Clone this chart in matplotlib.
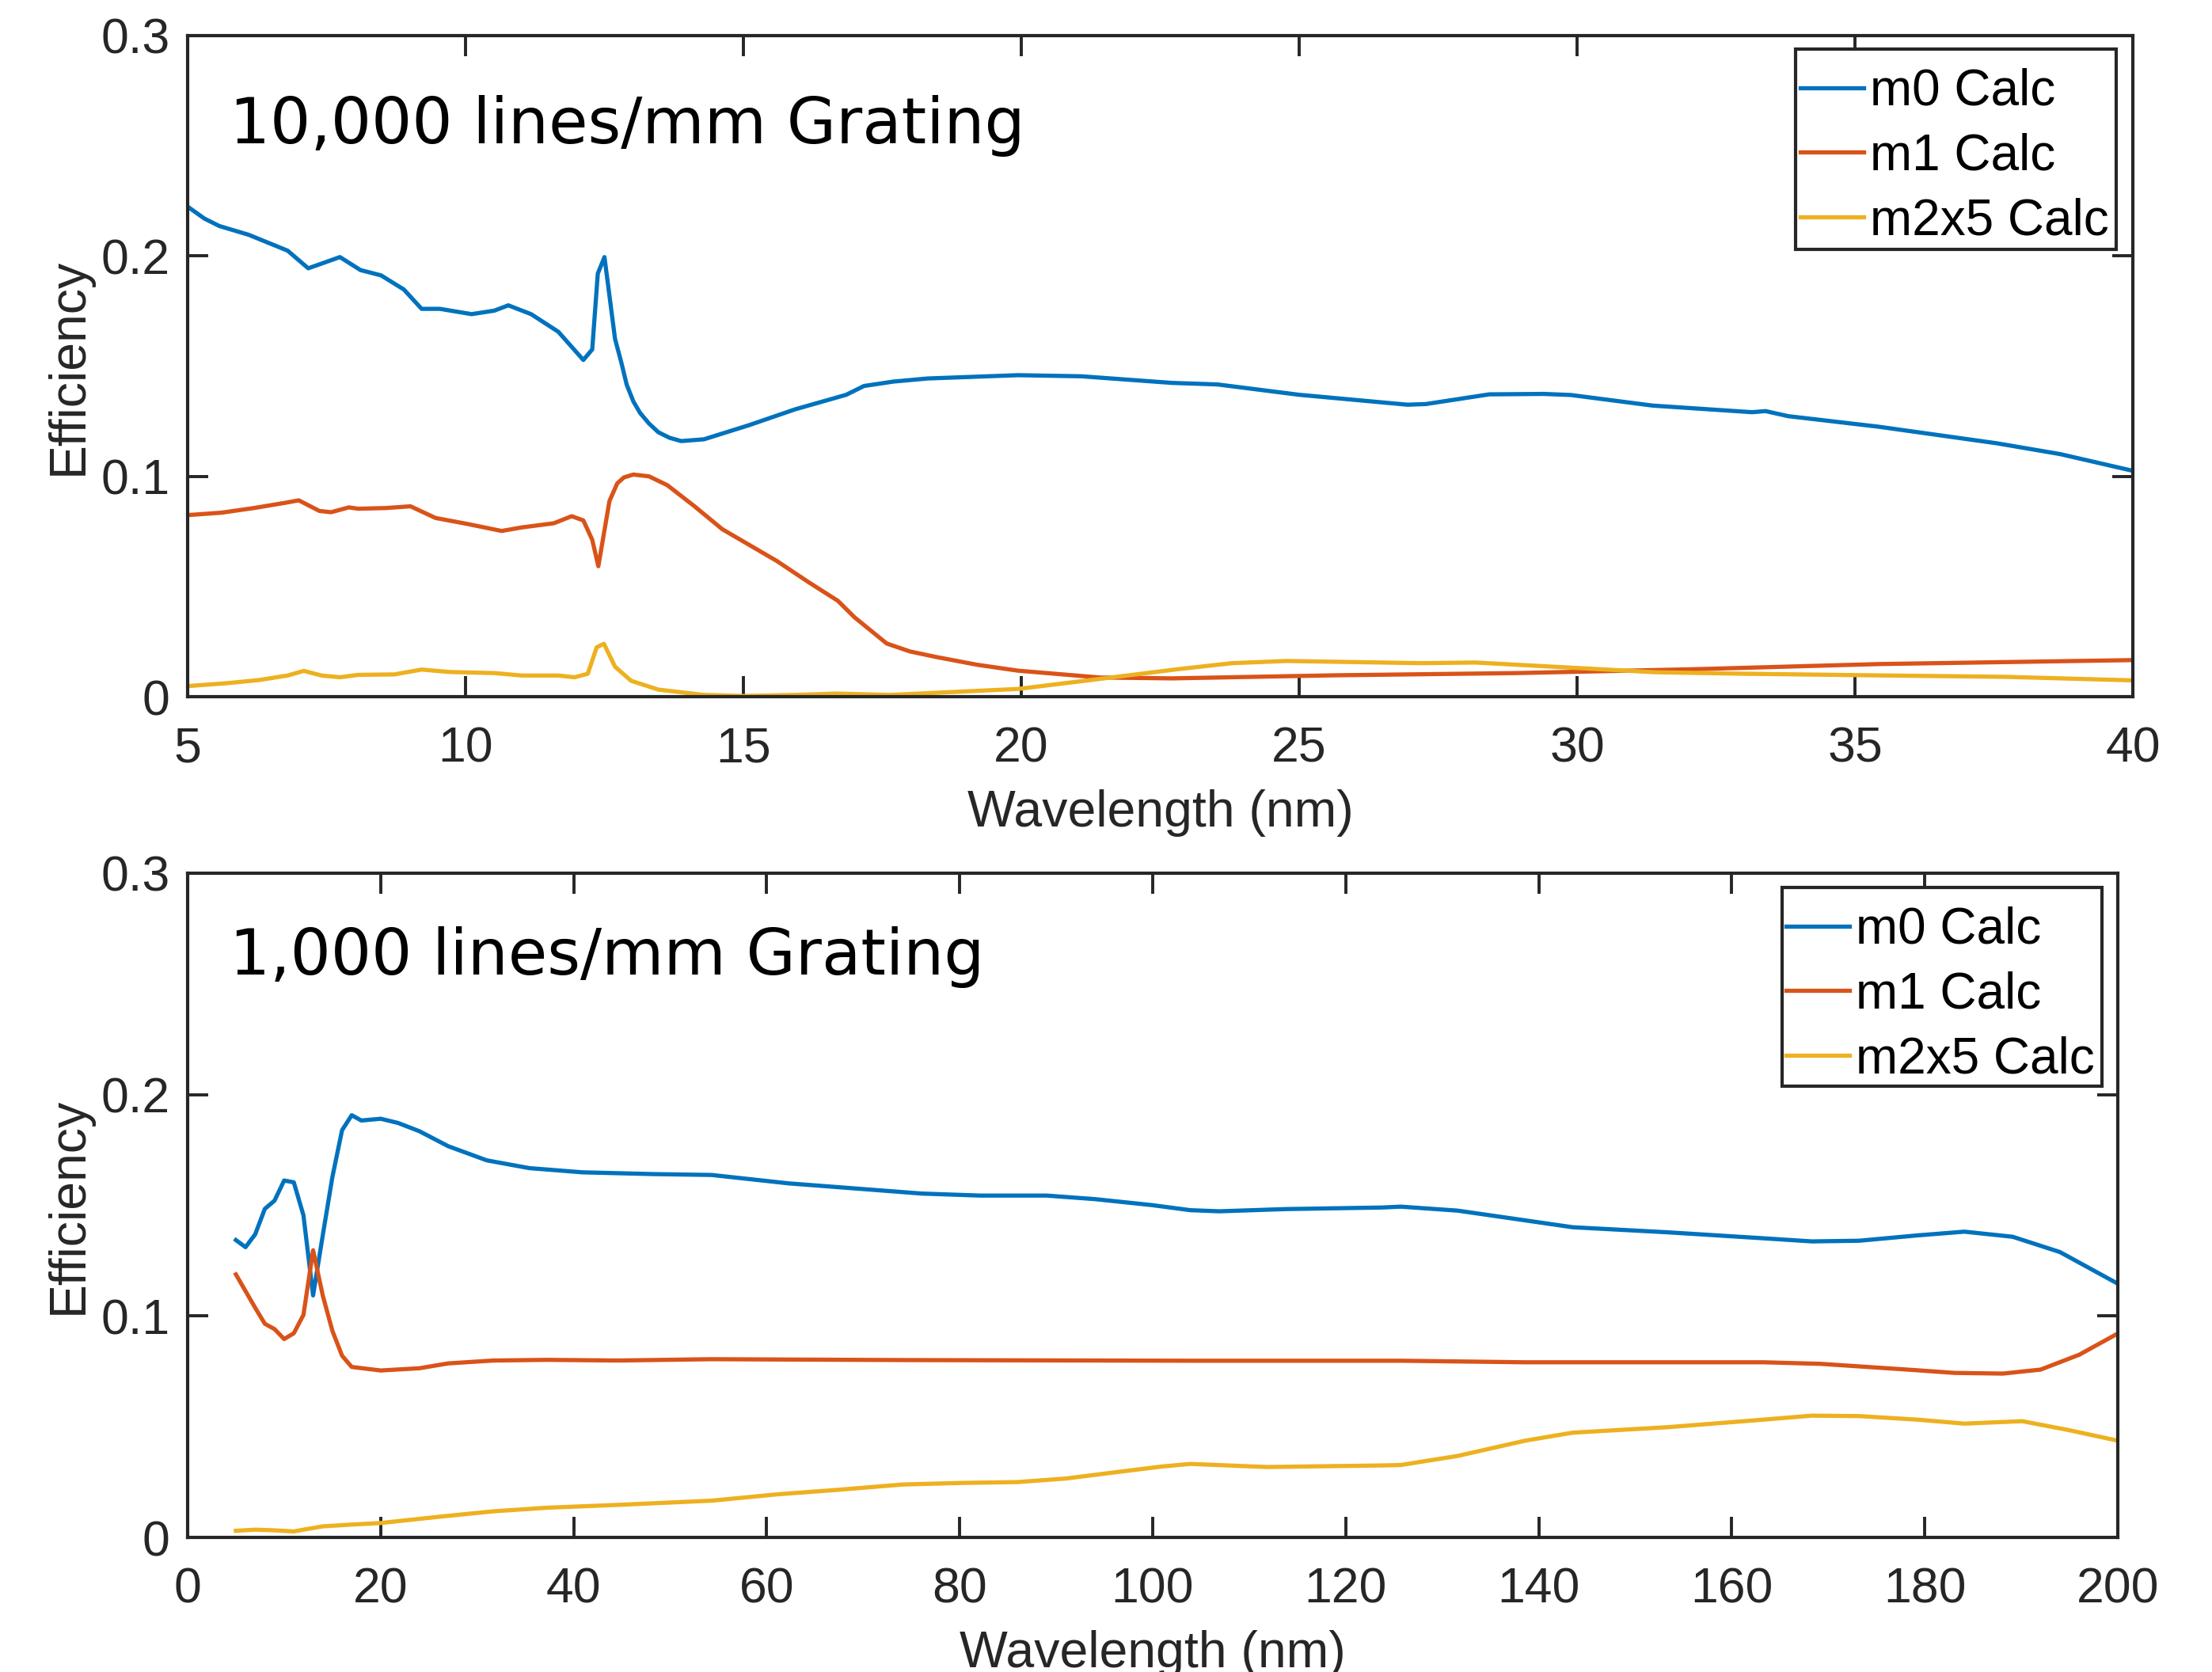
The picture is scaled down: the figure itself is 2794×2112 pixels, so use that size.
import matplotlib
matplotlib.use('Agg')
import matplotlib.pyplot as plt
from matplotlib.patches import Rectangle

# 10,000 lines/mm grating (top panel)
wl_top_m0 = [5, 5.3, 5.57, 6.1, 6.8, 7.17, 7.74, 8.11, 8.48, 8.89, 9.21, 9.54, 10.11, 10.52, 10.77,
             11.18, 11.67, 12.12, 12.28, 12.38, 12.5, 12.69, 12.8, 12.9, 13.02, 13.14, 13.3, 13.47,
             13.67, 13.88, 14.29, 15.1, 15.93, 16.85, 17.17, 17.7, 18.31, 19.94, 21.08, 22.71, 23.53,
             25.0, 26.95, 27.28, 28.42, 29.4, 29.89, 31.36, 33.15, 33.39, 33.8, 35.43, 37.55, 38.69, 40]
eff_top_m0 = [0.2224, 0.2170, 0.2136, 0.2096, 0.2024, 0.1944, 0.1995, 0.1936, 0.1912, 0.1848, 0.176,
              0.176, 0.1736, 0.1752, 0.1776, 0.1736, 0.1656, 0.1528, 0.1576, 0.192, 0.1995, 0.1624,
              0.1520, 0.1416, 0.1340, 0.1288, 0.1240, 0.12, 0.1175, 0.116, 0.1168, 0.1232, 0.1304,
              0.137, 0.141, 0.1430, 0.1444, 0.1459, 0.1454, 0.1424, 0.1417, 0.137, 0.1325, 0.1328,
              0.1372, 0.1374, 0.1369, 0.1321, 0.1291, 0.1296, 0.1273, 0.1225, 0.115, 0.1101, 0.1025]

wl_top_m1 = [5, 5.61, 6.19, 6.76, 7.0, 7.37, 7.58, 7.9, 8.07, 8.56, 9.01, 9.46, 10.03, 10.65, 11.01,
             11.59, 11.91, 12.12, 12.28, 12.39, 12.59, 12.73, 12.85, 13.02, 13.3, 13.63, 14.12, 14.62,
             15.6, 16.17, 16.7, 17.0, 17.58, 18.0, 18.47, 19.2, 19.94, 21.41, 22.71, 25.65, 28.9,
             32.17, 35.43, 40]
eff_top_m1 = [0.0824, 0.0835, 0.0856, 0.088, 0.0891, 0.0843, 0.0837, 0.0859, 0.0853, 0.0856, 0.0864,
              0.0811, 0.0784, 0.0752, 0.0768, 0.0787, 0.0819, 0.08, 0.0712, 0.0592, 0.0888, 0.0968,
              0.0995, 0.1008, 0.1, 0.096, 0.0864, 0.076, 0.0616, 0.052, 0.0435, 0.036, 0.0241, 0.0205,
              0.018, 0.0145, 0.0118, 0.0087, 0.0083, 0.0097, 0.0107, 0.0125, 0.0148, 0.0166]

wl_top_m2 = [5, 5.7, 6.27, 6.8, 7.09, 7.41, 7.74, 8.07, 8.72, 9.21, 9.71, 10.52, 11.01, 11.67, 11.96,
             12.2, 12.36, 12.49, 12.69, 12.98, 13.47, 14.29, 15.02, 15.93, 16.68, 17.64, 19.94, 21.2,
             22.83, 23.79, 24.77, 27.2, 28.17, 29.94, 31.4, 33.02, 35.28, 37.7, 40]
eff_top_m2 = [0.0048, 0.0061, 0.0075, 0.0096, 0.0117, 0.0096, 0.0088, 0.0099, 0.0101, 0.0123, 0.0112,
              0.0107, 0.0096, 0.0096, 0.0088, 0.0104, 0.0224, 0.024, 0.0136, 0.0072, 0.0032, 0.0008,
              0.0003, 0.0008, 0.0014, 0.0008, 0.0035, 0.0074, 0.0125, 0.0152, 0.0162, 0.0152, 0.0155,
              0.0131, 0.0111, 0.0104, 0.0097, 0.009, 0.0074]

# 1,000 lines/mm grating (bottom panel)
wl_bot_m0 = [5, 6, 7, 8, 9, 10, 11, 12, 13, 14, 15, 16, 17, 18, 20, 21.8, 24, 27, 31, 35.4, 40.9,
             48.3, 54.3, 62.3, 69.2, 76.1, 82.1, 89.0, 94.0, 99.9, 103.9, 106.9, 113.8, 123.7, 125.7,
             131.6, 138.6, 143.5, 153.4, 163.3, 168.3, 173.2, 179.2, 184.1, 189.1, 194.0, 200]
eff_bot_m0 = [0.1343, 0.1311, 0.1369, 0.1484, 0.1521, 0.1612, 0.1604, 0.1455, 0.1093, 0.1364, 0.1628,
              0.1839, 0.1907, 0.1883, 0.1891, 0.1872, 0.1835, 0.1767, 0.1703, 0.1668, 0.1649, 0.1641,
              0.1637, 0.1599, 0.1576, 0.1553, 0.1544, 0.1544, 0.1528, 0.1501, 0.1478, 0.1473, 0.1483,
              0.149, 0.1494, 0.1476, 0.1432, 0.1401, 0.1378, 0.1351, 0.1337, 0.134, 0.1364, 0.1381,
              0.1358, 0.1289, 0.1146]

wl_bot_m1 = [5, 7, 8, 9, 10, 11, 12, 13, 14, 15, 16, 17, 20, 24, 27, 31.7, 37.2, 44.6, 54.3, 74.4,
             103.9, 125.7, 138.6, 163.3, 169.2, 178.2, 183.1, 188.1, 192.0, 196.0, 200]
eff_bot_m1 = [0.1188, 0.1037, 0.0965, 0.0941, 0.0896, 0.0922, 0.1005, 0.1297, 0.1093, 0.0933, 0.0821,
              0.077, 0.0754, 0.0764, 0.0786, 0.0799, 0.0802, 0.0799, 0.0805, 0.0801, 0.0798, 0.0798,
              0.0791, 0.0791, 0.0784, 0.0758, 0.0743, 0.074, 0.0758, 0.0825, 0.0921]

wl_bot_m2 = [5, 7, 9, 11, 12, 14, 17, 20, 26.2, 31.7, 37.2, 44.6, 54.3, 61.2, 67.1, 74.1, 80.1, 86.0,
             91.0, 95.9, 100.9, 103.9, 111.8, 123.7, 125.7, 131.6, 138.6, 143.5, 153.4, 163.3, 168.3,
             173.2, 179.2, 184.1, 190.1, 195.0, 200]
eff_bot_m2 = [0.003, 0.0035, 0.0032, 0.0027, 0.0035, 0.005, 0.0058, 0.0065, 0.0094, 0.0118, 0.0134,
              0.0147, 0.0166, 0.0195, 0.0214, 0.0239, 0.0246, 0.025, 0.0266, 0.0293, 0.032, 0.0332,
              0.0318, 0.0325, 0.0327, 0.0368, 0.0437, 0.0473, 0.0498, 0.0532, 0.055, 0.0548, 0.0532,
              0.0514, 0.0525, 0.0484, 0.0437]

labels = ['m0 Calc', 'm1 Calc', 'm2x5 Calc']
colors = ['#0072BD', '#D95319', '#EDB120']
titles = ['10,000 lines/mm Grating', '1,000 lines/mm Grating']

axcol = '#262626'
plt.rcParams['font.family'] = ['Liberation Sans', 'DejaVu Sans']
plt.rcParams['text.color'] = axcol

fig = plt.figure(figsize=(13.97, 10.56), dpi=200)
W, H = 2794.0, 2112.0
ax1 = fig.add_axes([237 / W, 1 - 880 / H, (2694 - 237) / W, (880 - 45) / H])
ax2 = fig.add_axes([237 / W, 1 - 1942 / H, (2675 - 237) / W, (1942 - 1103) / H])

# (axes, series, xlim, xticks, legend anchor, legend box [x0, y0, x1, y1], title y)
panels = [
    (ax1, [(wl_top_m0, eff_top_m0), (wl_top_m1, eff_top_m1), (wl_top_m2, eff_top_m2)],
     (5, 40), list(range(5, 41, 5)), (0.9914, 0.9624), (0.8266, 0.6766, 0.9914, 0.9796), 0.837),
    (ax2, [(wl_bot_m0, eff_bot_m0), (wl_bot_m1, eff_bot_m1), (wl_bot_m2, eff_bot_m2)],
     (0, 200), list(range(0, 201, 20)), (0.9918, 0.9614), (0.8261, 0.6794, 0.9918, 0.9785), 0.848),
]

for (ax, series, xlim, xt, legpos, box, ty), title in zip(panels, titles):
    for (x, y), c, lab in zip(series, colors, labels):
        ax.plot(x, y, color=c, lw=1.9, label=lab)
    ax.set_xlim(*xlim)
    ax.set_ylim(0, 0.3)
    ax.set_xticks(xt)
    ax.set_yticks([0, 0.1, 0.2, 0.3])
    ax.set_yticklabels(['0', '0.1', '0.2', '0.3'])
    for s in ax.spines.values():
        s.set_color(axcol)
        s.set_linewidth(1.5)
    ax.tick_params(axis='both', which='both', direction='in', length=9.4, width=1.4,
                   top=True, right=True, colors=axcol, labelsize=22.5)
    ax.tick_params(axis='x', pad=13)
    ax.tick_params(axis='y', pad=8)
    ax.set_xlabel('Wavelength (nm)', fontsize=23.2, color=axcol, labelpad=8)
    ax.set_ylabel('Efficiency', fontsize=23.2, color=axcol, labelpad=4)
    ax.text(0.0216, ty, title, transform=ax.transAxes, fontsize=29,
            family='DejaVu Sans', color='black', va='baseline', ha='left')
    # legend box drawn separately so the entries sit like MATLAB's
    ax.add_patch(Rectangle((box[0], box[1]), box[2] - box[0], box[3] - box[1],
                           transform=ax.transAxes, facecolor='white', edgecolor=axcol,
                           lw=1.5, zorder=4.5))
    leg = ax.legend(loc='upper right', bbox_to_anchor=legpos, borderaxespad=0,
                    fontsize=23, frameon=False, handlelength=1.25,
                    handletextpad=0.12, labelspacing=0.34, borderpad=0.15)
    leg.set_zorder(5)
    for t in leg.get_texts():
        t.set_color('black')

fig.savefig('out.png', dpi=200)
